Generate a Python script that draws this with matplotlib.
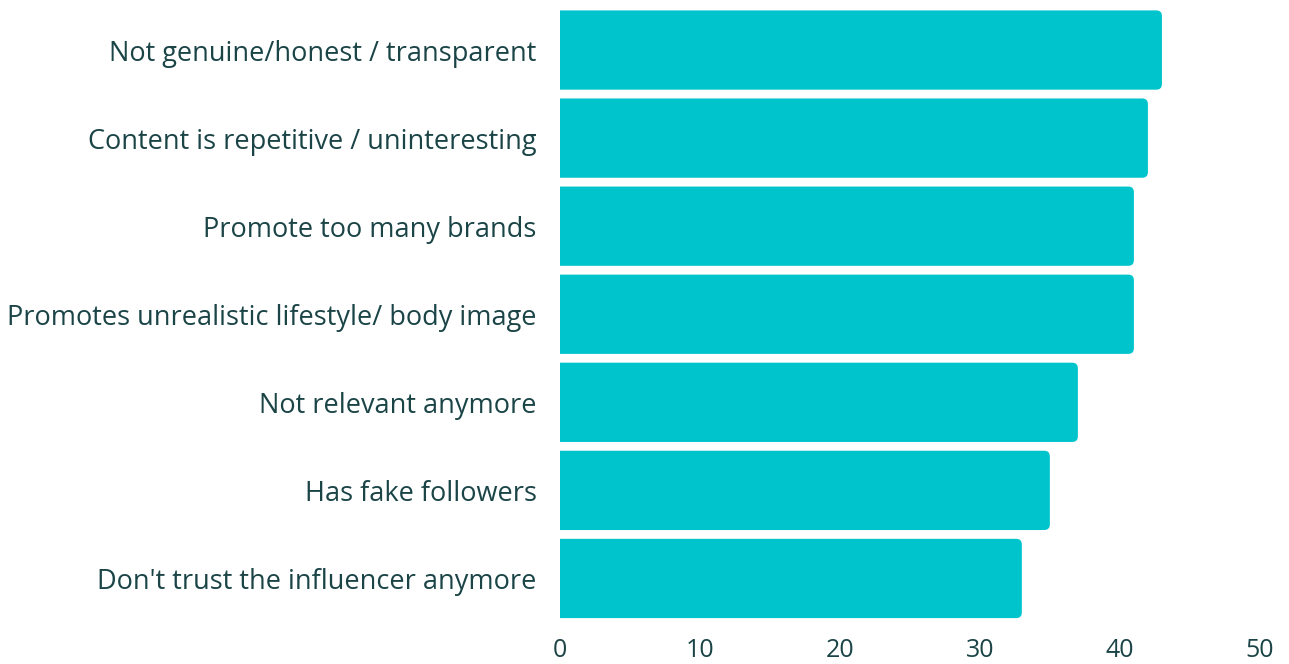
import matplotlib
matplotlib.use("Agg")
import matplotlib.pyplot as plt
from matplotlib.patches import FancyBboxPatch

categories = [
    "Not genuine/honest / transparent",
    "Content is repetitive / uninteresting",
    "Promote too many brands",
    "Promotes unrealistic lifestyle/ body image",
    "Not relevant anymore",
    "Has fake followers",
    "Don't trust the influencer anymore",
]
values = [43, 42, 41, 41, 37, 35, 33]
xticks = [0, 10, 20, 30, 40, 50]

bar_color = "#00C4CC"
text_color = "#1B4447"

plt.rcParams['font.family'] = ['Open Sans', 'DejaVu Sans']

W, H = 1289, 664
fig = plt.figure(figsize=(W / 100, H / 100), dpi=100)
left, right, top, bottom = 559.5, 1260, 6, 622.5
ax = fig.add_axes([left / W, 1 - bottom / H, (right - left) / W, (bottom - top) / H])

ax.set_xlim(0, 50)
ax.set_ylim(len(categories) - 0.5, -0.5)

px_per_x = (right - left) / 50
px_per_y = (bottom - top) / len(categories)
bh = 0.9
for i, v in enumerate(values):
    p = FancyBboxPatch((-1, i - bh / 2), v + 1, bh,
                       boxstyle="round,pad=0,rounding_size=0.4",
                       mutation_aspect=px_per_x / px_per_y,
                       facecolor=bar_color, edgecolor="none")
    ax.add_patch(p)

ax.set_yticks(range(len(categories)))
ax.set_yticklabels(categories, fontsize=19.5, color=text_color)
ax.set_xticks(xticks)
ax.set_xticklabels([str(t) for t in xticks], fontsize=18, color=text_color)
ax.tick_params(axis='both', length=0)
ax.tick_params(axis='y', pad=16.5)
ax.tick_params(axis='x', pad=11.5)
for s in ax.spines.values():
    s.set_visible(False)

fig.savefig("out.png", dpi=100, facecolor="white")
